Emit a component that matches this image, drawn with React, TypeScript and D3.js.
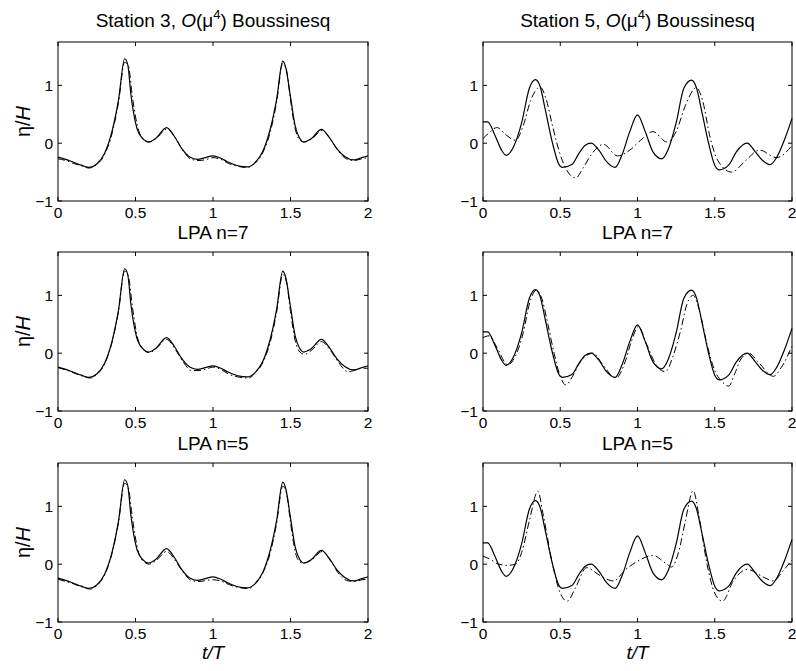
import React from "react";
import * as d3 from "d3";

type Pt = [number, number];

// Station 3: measured (solid)
const st3Measured: Pt[] = [
  [0, -0.24], [0.05, -0.28], [0.1, -0.33], [0.15, -0.38], [0.2, -0.42], [0.25, -0.36],
  [0.3, -0.18], [0.35, 0.22], [0.39, 0.74], [0.43, 1.46], [0.45, 1.36], [0.47, 0.85],
  [0.51, 0.25], [0.55, 0.07], [0.585, 0.02], [0.63, 0.08], [0.7, 0.27], [0.75, 0.12],
  [0.8, -0.1], [0.85, -0.24], [0.9, -0.28], [0.95, -0.25], [1.0, -0.22], [1.05, -0.26],
  [1.1, -0.33], [1.16, -0.39], [1.22, -0.41], [1.27, -0.34], [1.32, -0.15], [1.37, 0.25],
  [1.41, 0.75], [1.45, 1.42], [1.47, 1.3], [1.5, 0.8], [1.53, 0.3], [1.56, 0.08],
  [1.585, 0.02], [1.63, 0.07], [1.7, 0.24], [1.75, 0.1], [1.8, -0.1], [1.85, -0.23],
  [1.91, -0.29], [1.96, -0.25], [2.0, -0.22],
];

// Station 3: computed (dash-dot)
const st3Bous: Pt[] = [
  [0, -0.27], [0.05, -0.3], [0.1, -0.35], [0.15, -0.39], [0.2, -0.43], [0.25, -0.37],
  [0.3, -0.2], [0.35, 0.18], [0.39, 0.7], [0.43, 1.4], [0.455, 1.33], [0.48, 0.8],
  [0.52, 0.22], [0.56, 0.05], [0.59, 0.02], [0.64, 0.1], [0.705, 0.25], [0.76, 0.08],
  [0.81, -0.14], [0.86, -0.28], [0.91, -0.3], [0.96, -0.28], [1.0, -0.25], [1.05, -0.28],
  [1.1, -0.35], [1.16, -0.4], [1.22, -0.42], [1.27, -0.35], [1.32, -0.17], [1.37, 0.2],
  [1.41, 0.7], [1.45, 1.38], [1.475, 1.25], [1.5, 0.75], [1.53, 0.25], [1.56, 0.06],
  [1.59, 0.02], [1.64, 0.08], [1.705, 0.22], [1.76, 0.06], [1.81, -0.14], [1.86, -0.27],
  [1.91, -0.3], [1.96, -0.27], [2.0, -0.25],
];

const st3Lpa7: Pt[] = [
  [0, -0.25], [0.05, -0.29], [0.1, -0.34], [0.15, -0.39], [0.21, -0.43], [0.25, -0.37],
  [0.3, -0.19], [0.35, 0.2], [0.39, 0.72], [0.43, 1.42], [0.455, 1.32], [0.48, 0.8],
  [0.52, 0.2], [0.56, 0.04], [0.59, 0.01], [0.64, 0.1], [0.7, 0.24], [0.76, 0.05],
  [0.81, -0.16], [0.86, -0.3], [0.91, -0.3], [0.96, -0.27], [1.0, -0.24], [1.05, -0.28],
  [1.1, -0.36], [1.16, -0.41], [1.23, -0.43], [1.27, -0.35], [1.32, -0.17], [1.37, 0.2],
  [1.41, 0.7], [1.45, 1.36], [1.475, 1.22], [1.5, 0.72], [1.53, 0.22], [1.56, 0.02],
  [1.59, -0.02], [1.64, 0.06], [1.7, 0.2], [1.76, 0.04], [1.81, -0.16], [1.87, -0.32],
  [1.91, -0.3], [1.96, -0.26], [2.0, -0.26],
];

const st3Lpa5: Pt[] = [
  [0, -0.26], [0.05, -0.3], [0.1, -0.34], [0.15, -0.39], [0.21, -0.43], [0.25, -0.37],
  [0.3, -0.19], [0.35, 0.2], [0.39, 0.72], [0.43, 1.4], [0.455, 1.3], [0.48, 0.8],
  [0.52, 0.2], [0.56, 0.03], [0.59, 0.0], [0.64, 0.08], [0.7, 0.22], [0.76, 0.05],
  [0.81, -0.15], [0.86, -0.28], [0.91, -0.3], [0.96, -0.28], [1.0, -0.27], [1.05, -0.29],
  [1.1, -0.35], [1.16, -0.4], [1.23, -0.42], [1.27, -0.35], [1.32, -0.16], [1.37, 0.2],
  [1.41, 0.7], [1.45, 1.35], [1.475, 1.22], [1.5, 0.72], [1.53, 0.22], [1.56, 0.04],
  [1.59, 0.02], [1.64, 0.08], [1.705, 0.22], [1.76, 0.05], [1.81, -0.16], [1.86, -0.28],
  [1.91, -0.3], [1.96, -0.27], [2.0, -0.26],
];

// Station 5: measured (solid)
const st5Measured: Pt[] = [
  [0, 0.37], [0.03, 0.37], [0.08, 0.12], [0.12, -0.12], [0.15, -0.21], [0.2, -0.05],
  [0.25, 0.35], [0.3, 0.95], [0.34, 1.1], [0.37, 0.98], [0.4, 0.62], [0.45, 0.0],
  [0.49, -0.36], [0.515, -0.42], [0.575, -0.37], [0.62, -0.18], [0.66, -0.04], [0.7, 0.0],
  [0.75, -0.12], [0.8, -0.32], [0.855, -0.42], [0.9, -0.2], [0.95, 0.2], [1.0, 0.49],
  [1.05, 0.2], [1.1, -0.15], [1.157, -0.27], [1.2, -0.1], [1.25, 0.35], [1.3, 0.95],
  [1.35, 1.09], [1.38, 0.97], [1.42, 0.5], [1.46, 0.0], [1.5, -0.38], [1.53, -0.46],
  [1.59, -0.38], [1.64, -0.15], [1.71, 0.0], [1.76, -0.14], [1.81, -0.3], [1.86, -0.37],
  [1.9, -0.25], [1.95, 0.05], [2.0, 0.43],
];

// Station 5: computed (dash-dot)
const st5Bous: Pt[] = [
  [0, 0.08], [0.04, 0.18], [0.09, 0.27], [0.15, 0.14], [0.21, 0.05], [0.26, 0.3],
  [0.31, 0.75], [0.37, 0.97], [0.41, 0.75], [0.45, 0.3], [0.5, -0.2], [0.55, -0.5],
  [0.6, -0.6], [0.65, -0.42], [0.7, -0.2], [0.78, -0.02], [0.87, -0.22], [0.95, -0.12],
  [1.02, 0.05], [1.1, 0.2], [1.19, 0.02], [1.25, 0.2], [1.31, 0.65], [1.38, 0.96],
  [1.42, 0.75], [1.47, 0.1], [1.52, -0.3], [1.61, -0.5], [1.7, -0.3], [1.79, -0.12],
  [1.9, -0.25], [2.0, -0.04],
];

const st5Lpa7: Pt[] = [
  [0, 0.27], [0.04, 0.3], [0.09, 0.1], [0.16, -0.2], [0.21, -0.05], [0.26, 0.35],
  [0.3, 0.85], [0.345, 1.09], [0.38, 0.95], [0.42, 0.5], [0.46, 0.0], [0.5, -0.4],
  [0.535, -0.55], [0.58, -0.4], [0.63, -0.15], [0.715, 0.0], [0.77, -0.18], [0.86, -0.43],
  [0.92, -0.15], [0.96, 0.2], [1.006, 0.46], [1.06, 0.15], [1.12, -0.2], [1.18, -0.32],
  [1.23, -0.05], [1.28, 0.4], [1.32, 0.85], [1.36, 1.0], [1.4, 0.75], [1.45, 0.15],
  [1.5, -0.3], [1.55, -0.5], [1.59, -0.57], [1.63, -0.35], [1.67, -0.1], [1.72, 0.0],
  [1.78, -0.15], [1.88, -0.4], [1.93, -0.25], [2.0, 0.12],
];

const st5Lpa5: Pt[] = [
  [0, 0.14], [0.05, 0.08], [0.1, 0.0], [0.16, -0.02], [0.21, 0.0], [0.25, 0.2],
  [0.3, 0.75], [0.355, 1.26], [0.39, 0.85], [0.45, 0.0], [0.5, -0.5], [0.545, -0.64],
  [0.6, -0.4], [0.67, -0.06], [0.76, -0.2], [0.845, -0.29], [0.92, -0.1], [1.0, 0.05],
  [1.1, 0.15], [1.19, 0.0], [1.22, -0.05], [1.27, 0.25], [1.31, 0.75], [1.36, 1.27],
  [1.4, 0.8], [1.45, 0.0], [1.5, -0.5], [1.55, -0.64], [1.62, -0.29], [1.71, -0.09],
  [1.82, -0.23], [1.88, -0.29], [1.94, -0.12], [2.0, 0.07],
];

const xTicks = [0, 0.5, 1, 1.5, 2];
const xTickLabels = ["0", "0.5", "1", "1.5", "2"];
const yTicks = [-1, 0, 1];
const yTickLabels = ["\u22121", "0", "1"];
const rowTitles = [null, "LPA n=7", "LPA n=5"];

const panels = [
  { row: 0, col: 0, measured: st3Measured, model: st3Bous },
  { row: 0, col: 1, measured: st5Measured, model: st5Bous },
  { row: 1, col: 0, measured: st3Measured, model: st3Lpa7 },
  { row: 1, col: 1, measured: st5Measured, model: st5Lpa7 },
  { row: 2, col: 0, measured: st3Measured, model: st3Lpa5 },
  { row: 2, col: 1, measured: st5Measured, model: st5Lpa5 },
];

const W = 796;
const H = 671;
const colX: [number, number][] = [[58, 368], [483, 792]];
const rowY: [number, number][] = [[42, 201], [252, 411], [463, 622]];
const FONT = "'Liberation Sans', Arial, Helvetica, sans-serif";
const TICK = 4;

function Panel({ row, col, measured, model }: { row: number; col: number; measured: Pt[]; model: Pt[] }) {
  const [x0, x1] = colX[col];
  const [yTop, yBot] = rowY[row];
  const x = d3.scaleLinear().domain([0, 2]).range([x0, x1]);
  const y = d3.scaleLinear().domain([-1, 1.75]).range([yBot, yTop]);
  const line = d3
    .line<Pt>()
    .x((d) => x(d[0]))
    .y((d) => y(d[1]))
    .curve(d3.curveMonotoneX);
  const cx = (x0 + x1) / 2;
  const cy = (yTop + yBot) / 2;

  return (
    <g>
      <path d={line(model) ?? ""} fill="none" stroke="#000" strokeWidth={1} strokeDasharray="7,3,1.5,3" />
      <path d={line(measured) ?? ""} fill="none" stroke="#000" strokeWidth={1.2} />
      <rect x={x0} y={yTop} width={x1 - x0} height={yBot - yTop} fill="none" stroke="#000" strokeWidth={1} />
      {xTicks.map((t, i) => (
        <g key={"x" + i}>
          <line x1={x(t)} x2={x(t)} y1={yBot} y2={yBot - TICK} stroke="#000" />
          <line x1={x(t)} x2={x(t)} y1={yTop} y2={yTop + TICK} stroke="#000" />
          <text x={x(t)} y={yBot + 17} textAnchor="middle" fontSize={15.5}>
            {xTickLabels[i]}
          </text>
        </g>
      ))}
      {yTicks.map((t, i) => (
        <g key={"y" + i}>
          <line x1={x0} x2={x0 + TICK} y1={y(t)} y2={y(t)} stroke="#000" />
          <line x1={x1} x2={x1 - TICK} y1={y(t)} y2={y(t)} stroke="#000" />
          <text x={x0 - 5} y={y(t) + 6} textAnchor="end" fontSize={15.5}>
            {yTickLabels[i]}
          </text>
        </g>
      ))}
      {row === 0 && (
        <text x={cx} y={yTop - 15} textAnchor="middle" fontSize={19}>
          {`Station ${col === 0 ? 3 : 5}, `}
          <tspan fontStyle="italic">O</tspan>
          {"(\u03bc"}
          <tspan fontSize={13} dy={-8}>4</tspan>
          <tspan dy={8}>) Boussinesq</tspan>
        </text>
      )}
      {row > 0 && (
        <text x={cx} y={yTop - 13} textAnchor="middle" fontSize={19}>
          {rowTitles[row]}
        </text>
      )}
      {col === 0 && (
        <text transform={`translate(30,${cy}) rotate(-90)`} textAnchor="middle" fontSize={20}>
          {"\u03b7/"}
          <tspan fontStyle="italic">H</tspan>
        </text>
      )}
      {row === 2 && (
        <text x={cx} y={yBot + 37} textAnchor="middle" fontSize={19} fontStyle="italic">
          t/T
        </text>
      )}
    </g>
  );
}

export default function App() {
  return (
    <svg
      width={W}
      height={H}
      style={{ position: "absolute", left: 0, top: 0, background: "#fff", fontFamily: FONT }}
    >
      <rect width={W} height={H} fill="#fff" />
      {panels.map((p, i) => (
        <Panel key={i} {...p} />
      ))}
    </svg>
  );
}
